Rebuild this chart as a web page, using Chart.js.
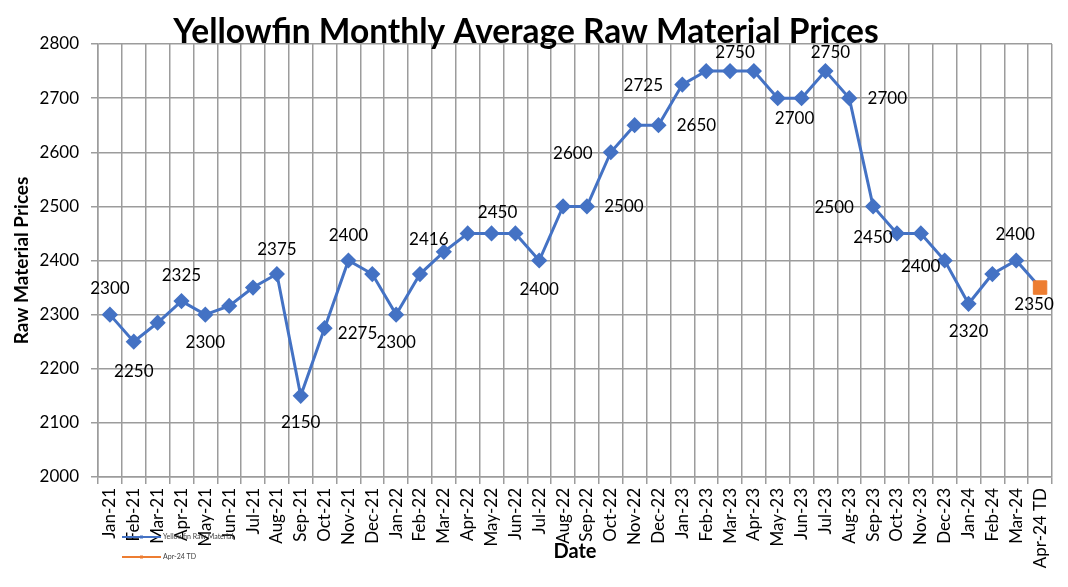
<!DOCTYPE html>
<html>
<head>
<meta charset="utf-8">
<title>Yellowfin Monthly Average Raw Material Prices</title>
<script src="https://cdn.jsdelivr.net/npm/chart.js@4.4.1/dist/chart.umd.min.js"></script>
<style>
  html, body { margin: 0; padding: 0; background: #fff; }
  .chart-box { position: relative; width: 1068px; height: 587px; }
</style>
</head>
<body>
<div class="chart-box"><canvas id="priceChart"></canvas></div>
<script>
const months = [
  'Jan-21', 'Feb-21', 'Mar-21', 'Apr-21', 'May-21', 'Jun-21',
  'Jul-21', 'Aug-21', 'Sep-21', 'Oct-21', 'Nov-21', 'Dec-21',
  'Jan-22', 'Feb-22', 'Mar-22', 'Apr-22', 'May-22', 'Jun-22',
  'Jul-22', 'Aug-22', 'Sep-22', 'Oct-22', 'Nov-22', 'Dec-22',
  'Jan-23', 'Feb-23', 'Mar-23', 'Apr-23', 'May-23', 'Jun-23',
  'Jul-23', 'Aug-23', 'Sep-23', 'Oct-23', 'Nov-23', 'Dec-23',
  'Jan-24', 'Feb-24', 'Mar-24', 'Apr-24 TD',
];

const seriesNames = ['Yellowfin Raw Material', 'Apr-24 TD'];

// monthly averages, the last one is month-to-date
const rawMaterialPrices = [
  2300, 2250, 2285, 2325, 2300, 2316, 2350, 2375, 2150, 2275, 2400, 2375,
  2300, 2375, 2416, 2450, 2450, 2450, 2400, 2500, 2500, 2600, 2650, 2650,
  2725, 2750, 2750, 2750, 2700, 2700, 2750, 2700, 2500, 2450, 2450, 2400,
  2320, 2375, 2400, 2350,
];

const aprToDatePrices = [
  null, null, null, null, null, null, null, null, null, null, null, null,
  null, null, null, null, null, null, null, null, null, null, null, null,
  null, null, null, null, null, null, null, null, null, null, null, null,
  null, null, null, 2350,
];

const priceTicks = [2000, 2100, 2200, 2300, 2400, 2500, 2600, 2700, 2800];

const blue = '#4472C4';
const orange = '#ED7D31';
const gridGray = '#9C9C9C';

Chart.defaults.font.family = 'Lato';
Chart.defaults.color = '#000';

// which points carry a value label, and where it sits: [dataset, point, dx, dy]
const labelSpots = [
  [0, 0, 0, -26], [0, 1, 0, 30], [0, 3, 0, -26], [0, 4, 0, 28],
  [0, 7, 0, -25], [0, 8, 0, 27], [0, 9, 33, 5], [0, 10, 0, -25],
  [0, 12, 0, 28], [0, 14, -15, -12], [0, 16, 6, -21], [0, 18, 0, 29],
  [0, 20, 37, 0], [0, 21, -38, 1], [0, 23, 38, 0], [0, 24, -39, 1],
  [0, 26, 5, -19], [0, 29, -7, 20], [0, 30, 5, -19], [0, 31, 38, 0],
  [0, 32, -39, 1], [0, 33, -24, 4], [0, 35, -24, 6], [0, 36, 0, 28],
  [0, 38, -1, -26], [1, 39, -6, 17],
];

const pointLabels = {
  id: 'pointLabels',
  afterDatasetsDraw(chart) {
    const { ctx } = chart;
    ctx.save();
    ctx.font = '17px Lato';
    ctx.fillStyle = '#000';
    ctx.textAlign = 'center';
    ctx.textBaseline = 'middle';
    labelSpots.forEach(([ds, i, dx, dy]) => {
      const pt = chart.getDatasetMeta(ds).data[i];
      const value = chart.data.datasets[ds].data[i];
      ctx.fillText(String(value), pt.x + dx, pt.y + dy);
    });
    ctx.restore();
  },
};

// the tiny legend sits under the axis, over the first month labels
const miniLegend = {
  id: 'miniLegend',
  afterDraw(chart) {
    const { ctx } = chart;
    ctx.save();
    ctx.font = '7px Lato';
    ctx.textBaseline = 'middle';
    chart.data.datasets.forEach((ds, i) => {
      const y = 537 + i * 20;
      ctx.strokeStyle = ds.borderColor;
      ctx.lineWidth = 2;
      ctx.beginPath();
      ctx.moveTo(122, y);
      ctx.lineTo(161, y);
      ctx.stroke();
      ctx.fillStyle = ds.borderColor;
      ctx.fillRect(140, y - 1.5, 3, 3);
      ctx.fillStyle = '#404040';
      ctx.fillText(ds.label, 163, y);
    });
    ctx.restore();
  },
};

const lastIndex = months.length - 1;

new Chart(document.getElementById('priceChart'), {
  type: 'line',
  data: {
    labels: months,
    datasets: [
      {
        label: seriesNames[0],
        data: rawMaterialPrices,
        borderColor: blue,
        backgroundColor: blue,
        borderWidth: 3,
        tension: 0,
        pointStyle: 'rectRot',
        pointRadius: (c) => (c.dataIndex === lastIndex ? 0 : 6),
        pointBackgroundColor: blue,
        pointBorderColor: blue,
        order: 1,
      },
      {
        label: seriesNames[1],
        data: aprToDatePrices,
        borderColor: orange,
        backgroundColor: orange,
        showLine: false,
        pointStyle: 'rect',
        pointRadius: 9.5,
        pointBackgroundColor: orange,
        pointBorderColor: orange,
        order: 0,
      },
    ],
  },
  options: {
    responsive: true,
    maintainAspectRatio: false,
    animation: false,
    layout: { padding: { left: 0, right: 16, top: 0, bottom: 0 } },
    plugins: {
      legend: { display: false },
      tooltip: { enabled: false },
      title: {
        display: true,
        text: 'Yellowfin Monthly Average Raw Material Prices',
        color: '#000',
        font: { size: 33.5, weight: 'bold' },
        padding: { top: 12.5, bottom: -8.7 },
      },
    },
    scales: {
      x: {
        offset: true,
        grid: { offset: true, color: gridGray, lineWidth: 1.5, tickLength: 7 },
        border: { color: gridGray, width: 1.5 },
        ticks: {
          font: { size: 17 },
          minRotation: 90,
          maxRotation: 90,
          autoSkip: false,
          padding: 4,
        },
        title: {
          display: true,
          text: 'Date',
          font: { size: 20, weight: 'bold' },
          padding: { top: 0, bottom: 23 },
        },
        afterFit(scale) { scale.height = 110; },
      },
      y: {
        min: 2000,
        max: 2800,
        afterBuildTicks(scale) { scale.ticks = priceTicks.map((value) => ({ value })); },
        grid: { color: gridGray, lineWidth: 1.5, tickLength: 7 },
        border: { color: gridGray, width: 1.5 },
        ticks: { font: { size: 17 }, padding: 12, callback: (value) => String(value) },
        title: {
          display: true,
          text: 'Raw Material Prices',
          font: { size: 19, weight: 'bold' },
          padding: { top: 10, bottom: 0 },
        },
        afterFit(scale) { scale.width = 98; },
      },
    },
  },
  plugins: [pointLabels, miniLegend],
});
</script>
</body>
</html>
